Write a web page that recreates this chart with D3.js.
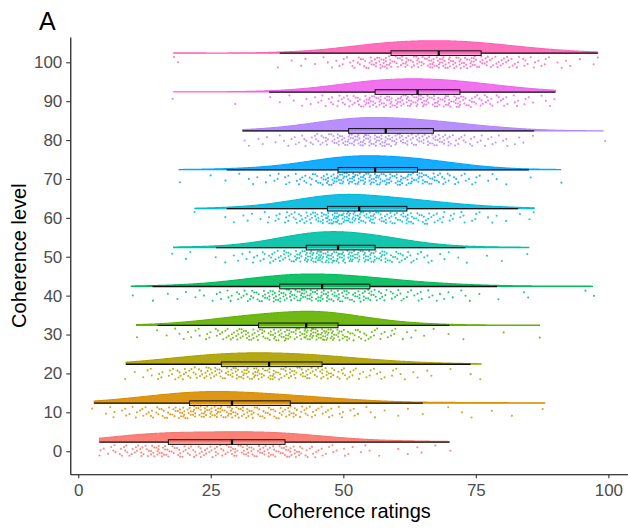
<!DOCTYPE html>
<html>
<head>
<meta charset="utf-8">
<script src="https://cdn.jsdelivr.net/npm/d3@7"></script>
<style>
  html, body { margin: 0; padding: 0; background: #fff; }
  svg { display: block; font-family: "Liberation Sans", Arial, Helvetica, sans-serif; }
</style>
</head>
<body>
<svg id="chart" width="628" height="529"></svg>
<script>
// Coherence levels (y categories), their colours and the rating ticks
const levels = [0, 10, 20, 30, 40, 50, 60, 70, 80, 90, 100];
const levelColors = ["#F8766D", "#DB8E00", "#AEA200", "#64B200", "#00BD5C", "#00C1A7",
                     "#00BADE", "#00A6FF", "#B385FF", "#EF67EB", "#FF63B6"];
const ratingTicks = [0, 25, 50, 75, 100];

// Lowest rating given at each level; each counts array lists how many
// responses fell on every integer rating from that value upward.
const countsFrom = [4, 3, 9, 11, 10, 18, 22, 19, 31, 18, 18];

const counts0 = [2,1,2,3,3,4,3,4,5,4,6,6,6,
  4,4,5,4,4,4,5,4,4,5,4,4,
  5,5,5,6,5,5,5,5,5,4,
  6,5,5,5,3,3,3,2,2,2,1,2,1,1,1,1,1,0,1,0,0,1,0,1,0,1,1,0,1,0,0,1];
const counts10 = [1,0,1,1,2,1,2,2,2,3,3,3,4,4,4,5,5,6,
  6,7,6,7,6,7,6,6,
  6,6,5,5,5,4,4,4,4,4,3,
  5,5,3,4,3,3,2,3,2,2,2,1,2,1,1,1,1,0,1,0,1,0,1,0,0,1,0,0,0,0,1,0,1,0,1,0,0,0,1,0,0,0,1,0,0,0,0,0,1];
const counts20 = [1,0,1,1,1,2,2,2,2,3,4,4,4,4,4,5,5,5,
  5,5,5,6,6,6,6,6,5,
  6,6,5,5,5,5,5,5,4,4,
  5,5,5,3,4,3,3,2,2,2,2,2,1,2,1,1,1,1,1,0,1,1,0,0,1,0,0,0,1,0,1];
const counts30 = [1,0,0,0,1,0,1,1,1,1,2,1,2,2,2,3,3,4,4,5,5,6,5,
  5,5,5,6,6,6,6,6,5,
  9,9,8,8,8,8,
  6,5,5,4,4,3,3,3,2,2,2,2,1,1,1,1,1,0,1,0,0,1,0,0,1,0,0,0,0,0,0,1,0,0,0,0,0,0,1];
const counts40 = [1,0,0,0,1,0,0,1,0,1,1,0,1,1,1,1,1,2,2,2,3,3,3,4,4,5,5,7,
  6,6,6,6,7,6,7,6,
  7,6,6,6,5,5,5,5,5,
  6,4,4,3,3,3,3,2,2,2,2,2,1,2,1,1,1,1,1,1,0,1,0,0,1,0,0,0,0,1,1,0,0,0,0,0,0,0,0,0,0,1,1];
const counts50 = [1,0,1,1,0,0,0,0,1,0,1,1,1,1,2,2,2,3,3,4,4,5,5,6,6,
  8,8,8,9,9,8,
  8,7,7,7,7,7,7,
  6,6,6,4,4,4,3,3,2,2,2,1,1,1,1,0,1,1,0,0,0,1,0,0,1,0,0,0,0,1];
const counts60 = [1,0,0,0,0,0,1,1,0,1,1,1,1,1,2,2,2,3,3,4,4,5,5,6,6,
  8,8,9,8,9,8,
  7,6,6,6,5,5,5,5,5,
  6,5,4,4,4,3,3,3,2,2,2,2,1,2,1,1,1,1,0,1,0,1,0,1,1];
const counts70 = [1,0,0,0,0,0,1,0,0,1,0,1,0,1,1,1,1,1,1,2,2,2,2,3,3,4,4,5,6,7,
  7,7,7,8,7,7,7,
  7,7,6,6,6,6,6,6,
  6,6,5,5,4,4,3,3,2,2,2,2,1,1,1,1,0,1,0,0,0,1,0,0,0,0,0,1];
const counts80 = [1,1,0,1,1,1,1,1,1,2,2,2,3,3,4,4,5,5,6,6,
  7,7,7,8,7,7,7,
  6,6,6,6,5,5,6,5,5,
  6,5,5,5,3,3,3,3,2,2,2,2,2,1,2,1,1,1,0,1,0,0,0,0,0,0,0,0,0,0,0,0,1];
const counts90 = [1,0,0,0,0,0,0,0,0,0,0,0,1,0,0,0,0,0,1,0,1,0,1,1,1,1,1,2,2,2,3,3,4,4,4,5,6,6,
  6,6,6,7,6,7,6,6,
  7,7,6,6,6,6,6,6,
  6,5,5,4,4,4,3,3,3,2,2,2,2,1,1,1,1,1,1];
const counts100 = [1,1,0,0,0,0,0,0,0,0,0,0,0,0,0,0,0,0,0,0,1,0,1,0,1,1,0,1,1,1,1,2,2,2,3,4,4,5,5,6,7,
  6,5,5,6,5,6,5,6,6,
  7,7,6,6,6,6,6,6,
  5,5,4,4,4,4,3,3,3,2,2,2,2,1,1,1,1,1,0,1,0,1,1];

const countsByLevel = [counts0, counts10, counts20, counts30, counts40, counts50,
                       counts60, counts70, counts80, counts90, counts100];

// ---- layout ----
const svg = d3.select("#chart");
const x = d3.scaleLinear().domain([-1.5, 103.7]).range([70.3, 628]);
const y = d3.scaleLinear().domain([-5.94, 106.5]).range([474.3, 37]);

const cloudLift = 2.35;   // violin baseline sits above its level
const cloudHeight = 4.1;  // tallest violin, in level units
const boxHalf = 0.6;      // half height of the box
const rainSpread = 1.55;  // vertical spread of the dots around their level
const bwAdjust = 1.7;     // smoothing multiplier on the rule-of-thumb bandwidth

const gauss = u => Math.exp(-0.5 * u * u) / Math.sqrt(2 * Math.PI);

// Per-level summaries: raw ratings, box statistics and a Gaussian density
const groups = levels.map((lev, i) => {
  const values = [];
  countsByLevel[i].forEach((c, j) => {
    for (let k = 0; k < c; k++) values.push(countsFrom[i] + j);
  });
  values.sort(d3.ascending);
  const n = values.length;
  const q1 = d3.quantile(values, 0.25);
  const med = d3.quantile(values, 0.5);
  const q3 = d3.quantile(values, 0.75);
  const iqr = q3 - q1;
  const lo = d3.min(values.filter(v => v >= q1 - 1.5 * iqr));
  const hi = d3.max(values.filter(v => v <= q3 + 1.5 * iqr));
  const bw = bwAdjust * 0.9 * Math.min(d3.deviation(values), iqr / 1.34) * Math.pow(n, -0.2);
  const vmin = values[0], vmax = values[n - 1];
  const dens = d3.range(512).map(k => {
    const g = vmin + (vmax - vmin) * k / 511;
    return [g, d3.mean(values, v => gauss((g - v) / bw)) / bw];
  });
  return { lev, i, color: levelColors[i], values, q1, med, q3, lo, hi, dens };
});

const maxDens = d3.max(groups, g => d3.max(g.dens, d => d[1]));

// ---- violins ----
const gViolin = svg.append("g");
groups.forEach(g => {
  const base = g.lev + cloudLift;
  const area = d3.area()
    .x(d => x(d[0]))
    .y0(y(base))
    .y1(d => y(base + cloudHeight * d[1] / maxDens));
  gViolin.append("path")
    .datum(g.dens)
    .attr("d", area)
    .attr("fill", g.color)
    .attr("fill-opacity", 0.92)
    .attr("stroke", g.color)
    .attr("stroke-width", 1.1);
});

// ---- rain (jittered dots) ----
const gDots = svg.append("g");
groups.forEach(g => {
  g.values.forEach((v, idx) => {
    const t = idx + 1 + g.i * 211;
    const jx = ((t * 0.7548776662) % 1 - 0.5) * 0.8;
    const jy = ((t * 0.5698402910) % 1 - 0.5) * 2 * rainSpread;
    gDots.append("circle")
      .attr("cx", x(v + jx))
      .attr("cy", y(g.lev + jy))
      .attr("r", 1.05)
      .attr("fill", g.color)
      .attr("fill-opacity", 0.85);
  });
});

// ---- boxplots ----
const gBox = svg.append("g");
groups.forEach(g => {
  const base = g.lev + cloudLift;
  gBox.append("line")
    .attr("x1", x(g.lo)).attr("x2", x(g.q1))
    .attr("y1", y(base)).attr("y2", y(base))
    .attr("stroke", "#111").attr("stroke-width", 1.3);
  gBox.append("line")
    .attr("x1", x(g.q3)).attr("x2", x(g.hi))
    .attr("y1", y(base)).attr("y2", y(base))
    .attr("stroke", "#111").attr("stroke-width", 1.3);
  gBox.append("rect")
    .attr("x", x(g.q1))
    .attr("y", y(base + boxHalf))
    .attr("width", x(g.q3) - x(g.q1))
    .attr("height", y(base - boxHalf) - y(base + boxHalf))
    .attr("fill", g.color)
    .attr("fill-opacity", 0.55)
    .attr("stroke", "#111")
    .attr("stroke-width", 1);
  gBox.append("line")
    .attr("x1", x(g.med)).attr("x2", x(g.med))
    .attr("y1", y(base + boxHalf)).attr("y2", y(base - boxHalf))
    .attr("stroke", "#000").attr("stroke-width", 2.2);
});

// ---- axes ----
function styleAxis(sel) {
  sel.attr("font-family", null).attr("font-size", 17);
  sel.select(".domain").attr("stroke", "#000").attr("stroke-width", 1.1);
  sel.selectAll(".tick line").attr("stroke", "#333").attr("stroke-width", 1.1);
  sel.selectAll(".tick text").attr("fill", "#4D4D4D");
}

svg.append("g")
  .attr("transform", `translate(${x.range()[0]},0)`)
  .call(d3.axisLeft(y).tickValues(levels).tickSize(4).tickSizeOuter(0).tickPadding(4))
  .call(styleAxis);

svg.append("g")
  .attr("transform", `translate(0,${y.range()[0]})`)
  .call(d3.axisBottom(x).tickValues(ratingTicks).tickSize(4).tickSizeOuter(0).tickPadding(5.5))
  .call(styleAxis);

// ---- titles ----
svg.append("text")
  .attr("x", (x.range()[0] + x.range()[1]) / 2)
  .attr("y", 518)
  .attr("text-anchor", "middle")
  .attr("font-size", 20)
  .attr("fill", "#000")
  .text("Coherence ratings");

svg.append("text")
  .attr("transform", `translate(26,${(y.range()[0] + y.range()[1]) / 2}) rotate(-90)`)
  .attr("text-anchor", "middle")
  .attr("font-size", 20)
  .attr("fill", "#000")
  .text("Coherence level");

svg.append("text")
  .attr("x", 39)
  .attr("y", 30)
  .attr("font-size", 25)
  .attr("fill", "#000")
  .text("A");
</script>
</body>
</html>
